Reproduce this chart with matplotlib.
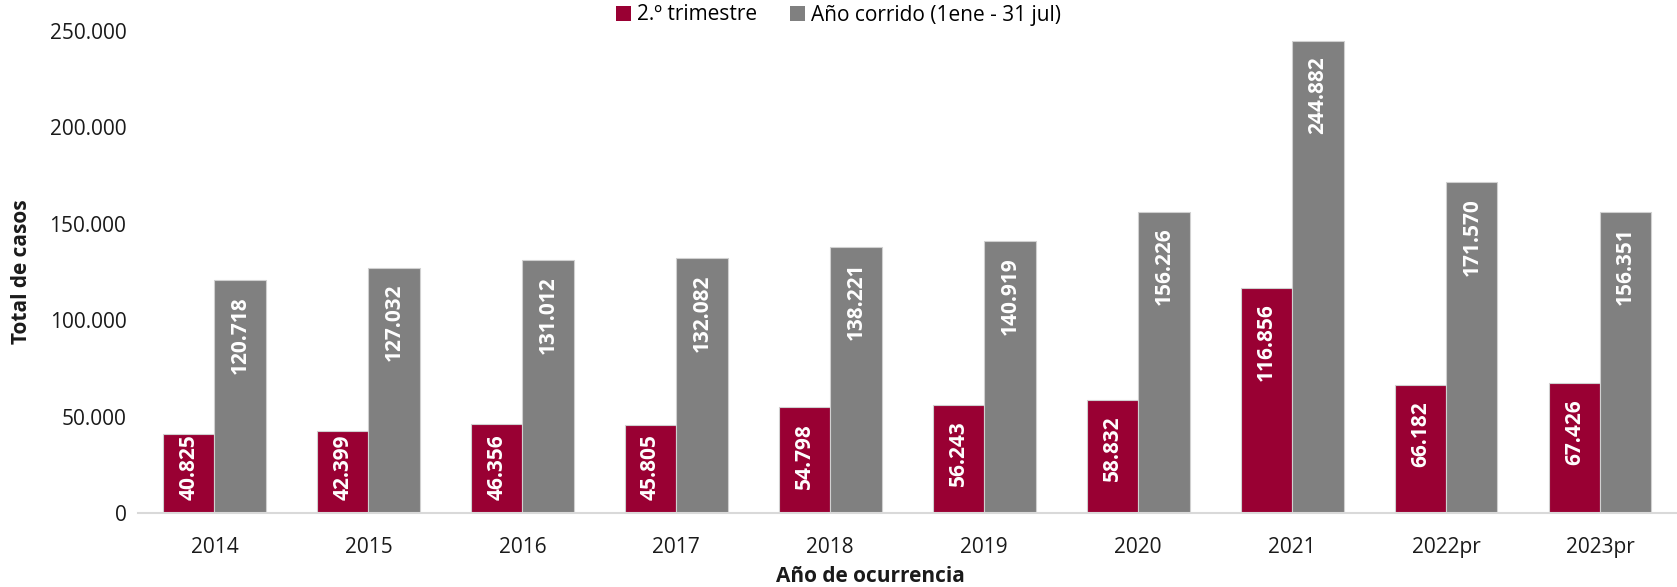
import matplotlib
matplotlib.use("Agg")
import matplotlib.pyplot as plt
import numpy as np

plt.rcParams['font.family'] = ['Open Sans', 'DejaVu Sans']

categories = ['2014', '2015', '2016', '2017', '2018', '2019', '2020', '2021', '2022pr', '2023pr']
trimestre = [40825, 42399, 46356, 45805, 54798, 56243, 58832, 116856, 66182, 67426]
corrido = [120718, 127032, 131012, 132082, 138221, 140919, 156226, 244882, 171570, 156351]
series_names = ['2.º trimestre', 'Año corrido (1ene - 31 jul)']
colors = ['#990033', '#808080']

W, H, DPI = 1677, 587, 100
fig = plt.figure(figsize=(W / DPI, H / DPI), dpi=DPI)
ax = fig.add_axes([137.5 / W, 1 - 513 / H, 1 - 137.5 / W, (513 - 31) / H])

x = np.arange(len(categories))
bw = 0.334
b1 = ax.bar(x - bw / 2, trimestre, bw, color=colors[0], edgecolor='#d0d0d0', linewidth=0.8, label=series_names[0], zorder=2)
b2 = ax.bar(x + bw / 2, corrido, bw, color=colors[1], edgecolor='#d0d0d0', linewidth=0.8, label=series_names[1], zorder=2)

ax.set_xlim(-0.5, len(categories) - 0.5)
ax.set_ylim(0, 250000)
ax.set_yticks(np.arange(0, 250001, 50000))
ax.set_yticklabels([f"{int(v):,}".replace(',', '.') for v in np.arange(0, 250001, 50000)])
ax.set_xticks(x)
ax.set_xticklabels(categories)
ax.tick_params(axis='both', length=0, labelsize=15, colors='#1a1a1a')
ax.tick_params(axis='x', pad=17)
ax.tick_params(axis='y', pad=8)
for s in ['top', 'right', 'left']:
    ax.spines[s].set_visible(False)
ax.spines['bottom'].set_color('#d9d9d9')
ax.spines['bottom'].set_linewidth(1.5)

# px -> data units
ppu = (513 - 31) / 250000.0

def fmt(v):
    return f"{v:,}".replace(',', '.')

for xs, vals in [(x - bw / 2, trimestre), (x + bw / 2, corrido)]:
    for xi, v in zip(xs, vals):
        s = fmt(v)
        tlen = 64 if len(s) <= 6 else 78
        vpx = v * ppu
        top_px = min(vpx, max(vpx - 16, tlen + 15))
        ax.text(xi, top_px / ppu, s, rotation=90, ha='center', va='top',
                color='white', fontsize=15, fontweight='bold', zorder=3)

ax.set_ylabel('Total de casos', fontsize=15, fontweight='bold', color='#1a1a1a', va='center')
ax.yaxis.set_label_coords(-(137.5 - 21) / (W - 137.5), 0.5)
ax.set_xlabel('Año de ocurrencia', fontsize=15, fontweight='bold', color='#1a1a1a', va='center')
ax.xaxis.set_label_coords((870 - 137.5) / (W - 137.5), -(577 - 513) / (513 - 31))

leg = fig.legend(handles=[b1, b2], labels=series_names, loc='center',
                 bbox_to_anchor=((620 + 1057) / 2 / W, 1 - 15 / H), ncol=2,
                 frameon=False, fontsize=15, handlelength=0.7, handleheight=0.7,
                 handletextpad=0.3, columnspacing=1.6, borderaxespad=0)
for h in leg.legend_handles:
    h.set_edgecolor('none')

fig.savefig('out.png', dpi=DPI)
